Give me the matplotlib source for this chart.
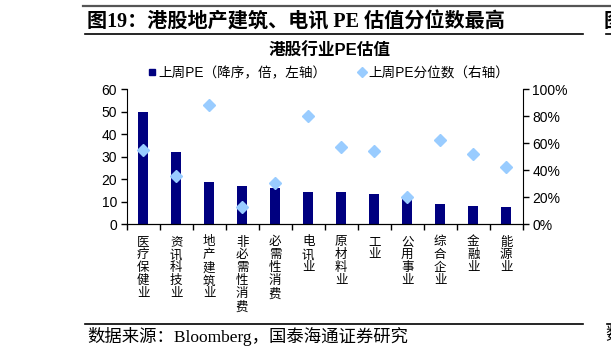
import matplotlib
matplotlib.use("Agg")
import matplotlib.pyplot as plt
from matplotlib.lines import Line2D
from matplotlib.ticker import FixedLocator, PercentFormatter

plt.rcParams['font.family'] = ['Liberation Sans', 'Noto Sans CJK SC']
plt.rcParams['axes.unicode_minus'] = False

# data
industries = ['医疗保健业', '资讯科技业', '地产建筑业', '非必需性消费', '必需性消费', '电讯业',
              '原材料业', '工业', '公用事业', '综合企业', '金融业', '能源业']
pe_last_week = [49.7, 31.9, 18.9, 16.8, 15.9, 14.1, 14.1, 13.2, 11.9, 9.1, 8.0, 7.6]
pe_percentile = [55.2, 35.6, 88.3, 12.4, 30.1, 80.4, 57.2, 54.0, 19.9, 62.4, 51.7, 42.5]

cjk_serif = ['Liberation Serif', 'Noto Sans CJK SC']
bar_color = '#000080'
dot_color = '#99CCFF'

W, H = 611, 357
fig = plt.figure(figsize=(W / 100, H / 100), dpi=100)

ax = fig.add_axes([126.7 / W, 1 - 224 / H, (522.7 - 126.7) / W, (224 - 89.3) / H])
x = list(range(len(industries)))
ax.bar(x, pe_last_week, width=0.31, color=bar_color, zorder=2)
ax.set_xlim(-0.5, len(industries) - 0.5)
ax.set_ylim(0, 60)
ax.set_yticks(range(0, 61, 10))
ax.tick_params(axis='y', direction='out', length=4, width=1, labelsize=10, pad=3)

# category names written top to bottom, ticks sit between categories
ax.set_xticks(x)
ax.set_xticklabels(['\n'.join(s) for s in industries], fontsize=9, linespacing=1.1,
                   va='top')
ax.tick_params(axis='x', which='major', length=0, pad=9)
ax.xaxis.set_minor_locator(FixedLocator([i - 0.5 for i in range(len(industries) + 1)]))
ax.tick_params(axis='x', which='minor', direction='out', length=4, width=1)

for side in ['top', 'right']:
    ax.spines[side].set_visible(False)

ax2 = ax.twinx()
ax2.plot(x, pe_percentile, linestyle='none', marker='D', markersize=6.5,
         color=dot_color, zorder=3)
ax2.set_ylim(0, 100)
ax2.set_yticks(range(0, 101, 20))
ax2.yaxis.set_major_formatter(PercentFormatter(decimals=0))
ax2.tick_params(axis='y', direction='out', length=4, width=1, labelsize=10, pad=3)
ax2.spines['top'].set_visible(False)
ax2.spines['left'].set_visible(False)

# titles
fig.text(87 / W, 1 - 22 / H, '图19：港股地产建筑、电讯 PE 估值分位数最高', family=cjk_serif,
         fontsize=14.5, fontweight='bold', va='center', ha='left')
fig.text(604 / W, 1 - 22 / H, '图', family=cjk_serif, fontsize=14.5, fontweight='bold',
         va='center', ha='left')
fig.text(330 / W, 1 - 50.5 / H, '港股行业PE估值', fontsize=12, fontweight='bold',
         ha='center', va='center')

handles = [
    Line2D([], [], linestyle='none', marker='s', markersize=5, color=bar_color),
    Line2D([], [], linestyle='none', marker='D', markersize=5, color=dot_color),
]
fig.legend(handles, ['上周PE（降序，倍，左轴）', '上周PE分位数（右轴）'], ncol=2,
           loc='center', bbox_to_anchor=(328 / W, 1 - 73 / H), frameon=False,
           fontsize=9.8, handlelength=0.8, handletextpad=0.1, columnspacing=2.2)

# header and footer rules
fig.add_artist(Line2D([83 / W, 1], [1 - 6 / H] * 2, color='#555555', linewidth=1.6))
fig.add_artist(Line2D([85 / W, 583 / W], [1 - 34 / H] * 2, color='black', linewidth=1.2))
fig.add_artist(Line2D([606 / W, 1], [1 - 34 / H] * 2, color='black', linewidth=1.2))
fig.add_artist(Line2D([85 / W, 583 / W], [1 - 324 / H] * 2, color='black', linewidth=1.2))
fig.add_artist(Line2D([607 / W, 1], [1 - 324 / H] * 2, color='black', linewidth=1.2))

fig.text(87 / W, 1 - 336 / H, '数据来源：Bloomberg，国泰海通证券研究', family=cjk_serif,
         fontsize=12.5, va='center', ha='left')
fig.text(605 / W, 1 - 336 / H, '数', family=cjk_serif, fontsize=12.5, va='center', ha='left')

fig.savefig('out.png', dpi=100)
